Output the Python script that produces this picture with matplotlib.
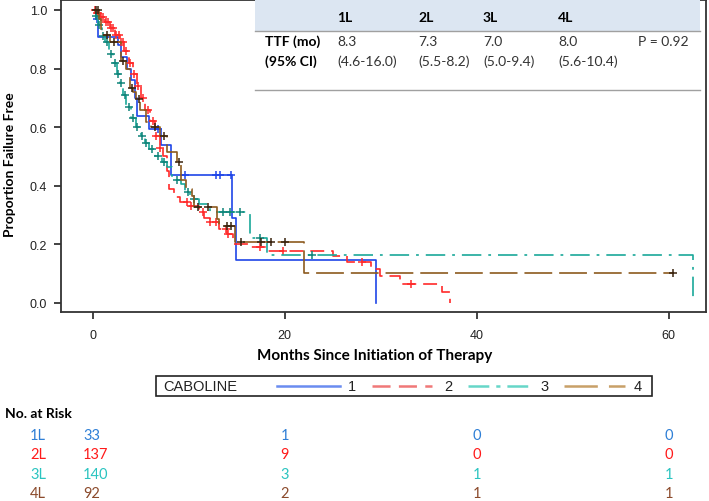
import numpy as np
import matplotlib
matplotlib.use('Agg')
from matplotlib import pyplot as plt
from matplotlib.lines import Line2D
from matplotlib.patches import Rectangle
import matplotlib.transforms as mtrans

plt.rcParams['font.family'] = ['Liberation Sans', 'DejaVu Sans']
plt.rcParams['lines.scale_dashes'] = False

# ---- step data (months, proportion failure free) ----
blue_t = [0.3, 0.6, 2.6, 3.0, 3.6, 4.0, 4.4, 4.6, 5.9, 7.1, 8.2, 14.5, 14.9, 29.5]
blue_s = [0.97, 0.909, 0.879, 0.838, 0.80, 0.76, 0.70, 0.637, 0.595, 0.54, 0.436, 0.29, 0.145, 0.0]
blue_c = [0.5, 6.8, 9.6, 12.9, 13.3, 14.4]

red_t = [0.3, 0.8, 1.3, 1.8, 2.3, 2.8, 3.3, 3.8, 4.2, 4.6, 5.0, 5.5, 6.0, 6.5, 7.0, 7.3, 7.7,
         8.0, 8.5, 9.1, 10.0, 11.1, 11.6, 12.2, 13.2, 14.0, 14.6, 16.4, 18.1, 25.0, 26.5, 29.0,
         29.9, 32.0, 36.4, 37.2]
red_s = [0.99, 0.975, 0.96, 0.94, 0.915, 0.89, 0.86, 0.82, 0.78, 0.74, 0.70, 0.66, 0.62, 0.57,
         0.53, 0.50, 0.45, 0.39, 0.36, 0.345, 0.33, 0.31, 0.29, 0.275, 0.252, 0.235, 0.20, 0.19,
         0.177, 0.16, 0.14, 0.116, 0.092, 0.065, 0.037, 0.0]
red_c = [0.2, 0.4, 0.6, 0.9, 1.1, 1.4, 1.6, 1.9, 2.1, 2.4, 2.7, 3.0, 3.2, 3.5, 3.9, 4.3, 4.7,
         5.2, 5.8, 6.3, 6.6, 7.0, 9.8, 10.2, 11.5, 12.2, 12.9, 13.9, 14.1, 17.4, 19.8, 28.1, 33.2]

teal_t = [0.3, 0.6, 1.0, 1.3, 1.7, 2.1, 2.5, 2.8, 3.2, 3.5, 4.0, 4.5, 5.0, 5.5, 5.9, 6.5, 7.2,
          7.7, 8.3, 9.2, 9.6, 10.1, 11.1, 12.2, 16.4, 18.2, 62.5]
teal_s = [0.98, 0.95, 0.91, 0.89, 0.85, 0.82, 0.78, 0.75, 0.71, 0.67, 0.63, 0.60, 0.57, 0.545,
          0.525, 0.50, 0.48, 0.465, 0.42, 0.405, 0.38, 0.354, 0.337, 0.31, 0.222, 0.165, 0.0]
teal_c = [0.3, 0.7, 1.1, 1.5, 1.9, 2.3, 2.6, 3.0, 3.4, 3.8, 4.2, 4.6, 5.1, 5.6, 6.2, 6.8, 7.4,
          8.8, 9.9, 10.6, 13.6, 14.3, 15.4, 17.4, 22.9]

brown_t = [0.7, 0.9, 1.8, 3.0, 3.5, 3.85, 4.2, 4.5, 4.9, 5.6, 6.1, 7.0, 7.7, 8.75, 9.2, 9.7,
           10.4, 10.6, 13.0, 13.2, 14.8, 22.0]
brown_s = [0.97, 0.916, 0.89, 0.825, 0.80, 0.735, 0.72, 0.695, 0.66, 0.617, 0.60, 0.57, 0.514,
           0.48, 0.42, 0.39, 0.366, 0.327, 0.286, 0.262, 0.207, 0.103]
brown_c = [0.3, 0.6, 1.5, 2.2, 3.2, 4.1, 4.8, 6.5, 7.4, 9.0, 11.0, 12.0, 14.0, 14.4, 15.5, 17.5,
           18.6, 20.0, 60.5]

# ---- number at risk ----
risk_times = [0, 20, 40, 60]
risk_labels = ['1L', '2L', '3L', '4L']
risk_1L = [33, 1, 0, 0]
risk_2L = [137, 9, 0, 0]
risk_3L = [140, 3, 1, 1]
risk_4L = [92, 2, 1, 1]

# ---- summary table ----
tbl_cols = ['1L', '2L', '3L', '4L']
tbl_ttf = ['8.3', '7.3', '7.0', '8.0']
tbl_ci = ['(4.6-16.0)', '(5.5-8.2)', '(5.0-9.4)', '(5.6-10.4)']
p_text = 'P = 0.92'

legend_labels = ['1', '2', '3', '4']

line_cols = ['#1f45e8', '#ff2a2a', '#1aa89a', '#8c5a1e']
mark_cols = ['#1f45e8', '#ff2a2a', '#11857a', '#3a2410']
leg_cols = ['#6a8cf0', '#f07878', '#66d6c8', '#c8a068']
risk_cols = ['#2e7fd6', '#ff1a1a', '#2ac4c0', '#8b4a2b']
dashes = [None, (10, 5), (14, 5, 2, 5), (20, 5)]
leg_dashes = [None, (13, 6), (15, 5, 3, 5), (24, 8)]

series = [(blue_t, blue_s, blue_c), (red_t, red_s, red_c),
          (teal_t, teal_s, teal_c), (brown_t, brown_s, brown_c)]

fig = plt.figure(figsize=(7.09, 5.02), dpi=100)
ax = fig.add_axes([61/709, 1 - 313/502, 645/709, 312/502])

for i, (t, s, c) in enumerate(series):
    t = np.array(t); s = np.array(s); c = np.array(c)
    xs = np.r_[0, t]
    ys = np.r_[1.0, s]
    end = max(t[-1], c.max())
    if s[-1] > 0:
        xs = np.r_[xs, end]
        ys = np.r_[ys, s[-1]]
    ln, = ax.step(xs, ys, where='post', color=line_cols[i], lw=1.2)
    if dashes[i] is not None:
        ln.set_dashes(dashes[i])
    # censor marks on the curve
    idx = np.searchsorted(t, c, side='right')
    cy = np.r_[1.0, s][idx]
    ax.plot(c, cy, ls='none', marker='+', ms=6, mew=1.1, color=mark_cols[i])

ax.set_xlim(-3.3, 63.9)
ax.set_ylim(-0.031, 1.034)
ax.set_xticks([0, 20, 40, 60])
ax.set_yticks([0.0, 0.2, 0.4, 0.6, 0.8, 1.0])
ax.set_yticklabels(['0.0', '0.2', '0.4', '0.6', '0.8', '1.0'])
ax.tick_params(direction='out', length=5, width=1.2, labelsize=9, colors='#222222')
ax.tick_params(axis='x', pad=7)
ax.tick_params(axis='y', pad=5)
for sp in ax.spines.values():
    sp.set_linewidth(1.3)
    sp.set_color('#333333')

bold = dict(family=['Lato', 'DejaVu Sans'], fontweight='bold')
ax.set_ylabel('Proportion Failure Free', fontsize=10, **bold)
ax.yaxis.set_label_coords(-0.07, 0.474)
fig.text(375/709, 1 - 356/502, 'Months Since Initiation of Therapy', ha='center', va='center',
         fontsize=11, **bold)

# ---- summary table inside the plot ----
fig.add_artist(Rectangle((255/709, 1 - 32/502), 445/709, 32/502, transform=fig.transFigure,
                         facecolor='#dce6f2', edgecolor='none', zorder=0.5))
fig.add_artist(Line2D([255/709, 700/709], [1 - 32/502] * 2, color='#a0a0a0', lw=1))
fig.add_artist(Line2D([255/709, 700/709], [1 - 91/502] * 2, color='#a0a0a0', lw=1))
col_x = [337, 418, 483, 558]
tfont = dict(family=['Lato', 'DejaVu Sans'], fontsize=10, va='center')
for x, h, v, ci in zip(col_x, tbl_cols, tbl_ttf, tbl_ci):
    fig.text(x/709, 1 - 18/502, h, fontweight='bold', **tfont)
    fig.text(x/709, 1 - 42/502, v, color='#333333', **tfont)
    fig.text(x/709, 1 - 62/502, ci, color='#333333', **tfont)
fig.text(265/709, 1 - 42/502, 'TTF (mo)', fontweight='bold', **tfont)
fig.text(265/709, 1 - 62/502, '(95% CI)', fontweight='bold', **tfont)
fig.text(638/709, 1 - 42/502, p_text, color='#333333', **tfont)

# ---- legend box ----
fig.add_artist(Rectangle((156/709, 1 - 397/502), 496/709, 20/502, transform=fig.transFigure,
                         facecolor='white', edgecolor='#222222', lw=1.2))
ly = 1 - 387/502
fig.text(163/709, ly, 'CABOLINE', fontsize=10.5, va='center', color='#222222')
seg_x = [(277, 340), (372, 432), (468, 530), (564, 625)]
lab_x = [348, 444, 540, 634]
for i in range(4):
    x0, x1 = seg_x[i]
    ln = Line2D([x0/709, x1/709], [ly, ly], color=leg_cols[i], lw=1.8,
                transform=fig.transFigure)
    if leg_dashes[i] is not None:
        ln.set_dashes(leg_dashes[i])
    fig.add_artist(ln)
    fig.text(lab_x[i]/709, ly, legend_labels[i], fontsize=10.5, va='center', color='#222222')

# ---- number at risk ----
fig.text(5/709, 1 - 414/502, 'No. at Risk', fontsize=10, va='center', **bold)
trans = mtrans.blended_transform_factory(ax.transData, fig.transFigure)
rows = [risk_1L, risk_2L, risk_3L, risk_4L]
rfont = dict(family=['Lato', 'DejaVu Sans'], fontsize=10.5, va='center')
for j, (lab, vals) in enumerate(zip(risk_labels, rows)):
    y = 1 - (436 + 19.3 * j)/502
    fig.text(30/709, y, lab, color=risk_cols[j], **rfont)
    for k, (tm, v) in enumerate(zip(risk_times, vals)):
        if k == 0:
            fig.text(83/709, y, str(v), color=risk_cols[j], ha='left', **rfont)
        else:
            fig.text(tm, y, str(v), color=risk_cols[j], ha='center', transform=trans, **rfont)

fig.savefig('out.png', dpi=100)
